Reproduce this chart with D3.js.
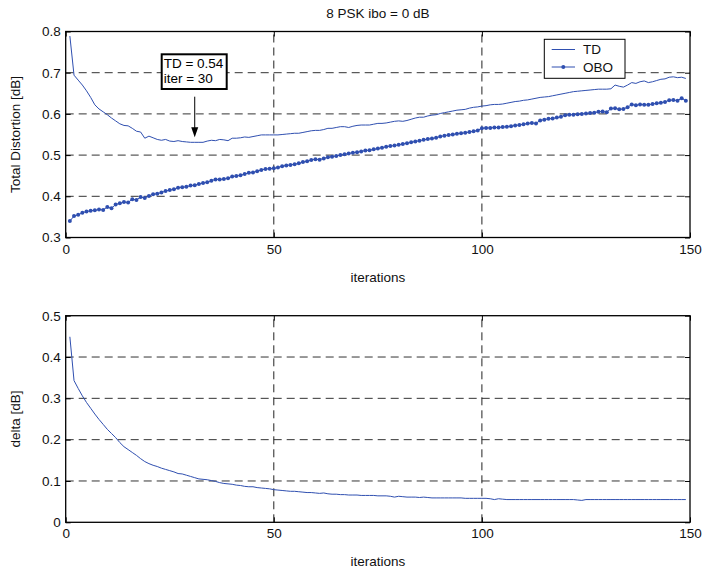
<!DOCTYPE html>
<html>
<head>
<meta charset="utf-8">
<script src="https://cdn.jsdelivr.net/npm/d3@7"></script>
<style>
  html, body { margin: 0; padding: 0; background: #fff; }
  svg { display: block; font-family: "Liberation Sans", Arial, sans-serif; }
</style>
</head>
<body>
<svg id="chart" width="702" height="571"></svg>
<script>
// ---------- DATA ----------
const title = "8 PSK ibo = 0 dB";
const xTicks = [0, 50, 100, 150];
const topYTicks = [0.3, 0.4, 0.5, 0.6, 0.7, 0.8];
const botYTicks = [0, 0.1, 0.2, 0.3, 0.4, 0.5];

const tdValues = [
0.789,0.694,0.682,0.670,0.656,0.640,0.622,0.612,0.605,0.598,
0.590,0.583,0.576,0.572,0.571,0.565,0.558,0.556,0.541,0.546,
0.542,0.538,0.536,0.538,0.534,0.533,0.535,0.533,0.532,0.531,
0.531,0.531,0.531,0.534,0.536,0.535,0.538,0.537,0.535,0.541,
0.541,0.542,0.544,0.543,0.545,0.547,0.549,0.549,0.549,0.549,
0.549,0.550,0.551,0.552,0.553,0.553,0.555,0.557,0.559,0.560,
0.560,0.562,0.565,0.565,0.567,0.569,0.569,0.567,0.570,0.572,
0.573,0.573,0.573,0.575,0.577,0.577,0.578,0.580,0.582,0.583,
0.582,0.584,0.587,0.590,0.592,0.592,0.595,0.597,0.598,0.601,
0.603,0.605,0.607,0.609,0.610,0.611,0.614,0.616,0.617,0.619,
0.620,0.622,0.623,0.623,0.624,0.626,0.628,0.630,0.631,0.633,
0.634,0.636,0.638,0.640,0.641,0.642,0.644,0.646,0.648,0.650,
0.652,0.654,0.655,0.656,0.657,0.658,0.659,0.660,0.660,0.660,
0.661,0.670,0.667,0.665,0.670,0.676,0.674,0.678,0.680,0.676,
0.678,0.681,0.684,0.685,0.689,0.690,0.688,0.689,0.686
];

const oboValues = [
0.340,0.352,0.355,0.360,0.363,0.365,0.366,0.368,0.367,0.374,
0.371,0.380,0.383,0.386,0.385,0.393,0.391,0.398,0.396,0.401,
0.405,0.406,0.409,0.413,0.415,0.417,0.421,0.422,0.423,0.426,
0.427,0.430,0.432,0.434,0.438,0.441,0.441,0.442,0.444,0.448,
0.449,0.451,0.454,0.457,0.458,0.461,0.464,0.466,0.467,0.468,
0.470,0.473,0.475,0.476,0.478,0.480,0.483,0.485,0.488,0.490,
0.489,0.492,0.495,0.496,0.498,0.500,0.502,0.504,0.506,0.507,
0.509,0.511,0.512,0.514,0.516,0.518,0.520,0.522,0.523,0.525,
0.527,0.529,0.531,0.533,0.535,0.537,0.539,0.540,0.542,0.545,
0.547,0.549,0.550,0.552,0.553,0.554,0.556,0.558,0.560,0.565,
0.566,0.566,0.567,0.567,0.568,0.569,0.570,0.572,0.573,0.575,
0.577,0.578,0.577,0.584,0.586,0.588,0.589,0.591,0.593,0.597,
0.598,0.598,0.599,0.600,0.601,0.602,0.603,0.605,0.606,0.604,
0.613,0.614,0.611,0.612,0.616,0.623,0.621,0.623,0.622,0.622,
0.624,0.626,0.627,0.629,0.633,0.634,0.632,0.638,0.632
];

const deltaValues = [
0.449,0.343,0.324,0.306,0.290,0.276,0.262,0.249,0.237,0.225,
0.215,0.205,0.193,0.183,0.176,0.169,0.162,0.154,0.147,0.142,
0.138,0.135,0.131,0.128,0.125,0.122,0.118,0.117,0.114,0.111,
0.108,0.105,0.104,0.103,0.101,0.099,0.096,0.094,0.093,0.092,
0.090,0.089,0.087,0.086,0.086,0.084,0.083,0.082,0.081,0.079,
0.078,0.077,0.076,0.075,0.075,0.074,0.073,0.072,0.072,0.071,
0.070,0.071,0.069,0.068,0.068,0.067,0.067,0.066,0.066,0.066,
0.065,0.065,0.065,0.065,0.064,0.064,0.064,0.063,0.061,0.063,
0.062,0.061,0.061,0.061,0.060,0.061,0.060,0.059,0.059,0.059,
0.059,0.059,0.059,0.059,0.059,0.058,0.058,0.058,0.058,0.058,
0.058,0.057,0.055,0.057,0.056,0.055,0.055,0.055,0.055,0.055,
0.055,0.055,0.055,0.055,0.055,0.055,0.055,0.055,0.055,0.055,
0.055,0.055,0.054,0.053,0.055,0.055,0.055,0.055,0.055,0.055,
0.055,0.055,0.055,0.055,0.055,0.055,0.055,0.055,0.055,0.055,
0.055,0.055,0.055,0.055,0.055,0.055,0.055,0.055,0.055
];

const annotation = { lines: ["TD = 0.54", "iter = 30"], iter: 31, value: 0.531 };
const legendNames = ["TD", "OBO"];

// ---------- LAYOUT ----------
const svg = d3.select("#chart");
const FS = "13.5px";
const blue = "#2f4fb0";
const L = 65.7, R = 690;

const x = d3.scaleLinear().domain([0, 150]).range([L, R]);
const yTop = d3.scaleLinear().domain([0.3, 0.8]).range([237.5, 31.5]);
const yBot = d3.scaleLinear().domain([0, 0.5]).range([522.3, 315.7]);

function panel(y, yTicks, yFmt, ylabel, xlabelY) {
  const g = svg.append("g");
  const [y0, y1] = y.range();
  // grid
  g.selectAll(".hg").data(yTicks.slice(1, -1)).join("line")
    .attr("x1", L).attr("x2", R).attr("y1", d => y(d)).attr("y2", d => y(d))
    .attr("stroke", "#333").attr("stroke-width", 1).attr("stroke-dasharray", "8,5");
  g.selectAll(".vg").data(xTicks.slice(1, -1)).join("line")
    .attr("x1", d => x(d)).attr("x2", d => x(d)).attr("y1", y0).attr("y2", y1)
    .attr("stroke", "#222").attr("stroke-width", 1).attr("stroke-dasharray", "8,5");

  // axes with inward ticks
  const ax = g.append("g").attr("transform", `translate(0,${y0})`)
    .call(d3.axisBottom(x).tickValues(xTicks).tickSize(-5).tickPadding(6.5).tickFormat(d3.format("d")));
  const axT = g.append("g").attr("transform", `translate(0,${y1})`)
    .call(d3.axisTop(x).tickValues(xTicks).tickSize(-5).tickFormat(""));
  const ay = g.append("g").attr("transform", `translate(${L},0)`)
    .call(d3.axisLeft(y).tickValues(yTicks).tickSize(-5).tickPadding(5).tickFormat(yFmt));
  const ayR = g.append("g").attr("transform", `translate(${R},0)`)
    .call(d3.axisRight(y).tickValues(yTicks).tickSize(-5).tickFormat(""));
  [ax, axT, ay, ayR].forEach(a => {
    a.select(".domain").remove();
    a.selectAll("line").attr("stroke", "#000");
    a.selectAll("text").attr("font-size", FS).attr("fill", "#111")
      .attr("font-family", '"Liberation Sans", Arial, sans-serif');
  });
  // frame
  g.append("rect").attr("x", L).attr("y", y1).attr("width", R - L).attr("height", y0 - y1)
    .attr("fill", "none").attr("stroke", "#000").attr("stroke-width", 1.3);
  // labels
  svg.append("text").attr("x", (L + R) / 2).attr("y", xlabelY).attr("text-anchor", "middle")
    .attr("font-size", FS).attr("fill", "#111").text("iterations");
  svg.append("text").attr("transform", `translate(20,${(y0 + y1) / 2}) rotate(-90)`)
    .attr("text-anchor", "middle").attr("font-size", FS).attr("fill", "#111").text(ylabel);
  return g;
}

const gTop = panel(yTop, topYTicks, d3.format(".1f"), "Total Distortion [dB]", 281.5);
const gBot = panel(yBot, botYTicks, d => d === 0 ? "0" : d3.format(".1f")(d), "delta [dB]", 566);

svg.append("text").attr("x", (L + R) / 2).attr("y", 18).attr("text-anchor", "middle")
  .attr("font-size", FS).attr("fill", "#111").text(title);

// ---------- SERIES ----------
const idx = (v, i) => i + 1;
const lineTop = d3.line().x((d, i) => x(i + 1)).y(d => yTop(d));
const lineBot = d3.line().x((d, i) => x(i + 1)).y(d => yBot(d));

gTop.append("path").datum(tdValues).attr("d", lineTop)
  .attr("fill", "none").attr("stroke", blue).attr("stroke-width", 1);
gTop.append("path").datum(oboValues).attr("d", lineTop)
  .attr("fill", "none").attr("stroke", blue).attr("stroke-width", 1);
gTop.selectAll(".obo").data(oboValues).join("circle")
  .attr("cx", (d, i) => x(i + 1)).attr("cy", d => yTop(d)).attr("r", 2)
  .attr("fill", blue);

gBot.append("path").datum(deltaValues).attr("d", lineBot)
  .attr("fill", "none").attr("stroke", blue).attr("stroke-width", 1);

// ---------- ANNOTATION ----------
const ax0 = x(annotation.iter);
const boxX = 161.7, boxY = 54.3, boxW = 65, boxH = 34.7;
svg.append("rect").attr("x", boxX).attr("y", boxY).attr("width", boxW).attr("height", boxH)
  .attr("fill", "#fff").attr("stroke", "#000").attr("stroke-width", 2);
annotation.lines.forEach((t, i) => {
  svg.append("text").attr("x", boxX + 2).attr("y", boxY + 13.5 + i * 15)
    .attr("font-size", FS).attr("fill", "#000").text(t);
});
const tipY = yTop(annotation.value) - 5;
svg.append("line").attr("x1", ax0).attr("x2", ax0).attr("y1", 96.7).attr("y2", tipY - 8)
  .attr("stroke", "#000").attr("stroke-width", 1);
svg.append("path")
  .attr("d", `M${ax0 - 3.5},${tipY - 10} L${ax0 + 3.5},${tipY - 10} L${ax0},${tipY} Z`)
  .attr("fill", "#000");

// ---------- LEGEND ----------
const lg = svg.append("g");
lg.append("rect").attr("x", 544.3).attr("y", 39.3).attr("width", 80.7).attr("height", 39)
  .attr("fill", "#fff").attr("stroke", "#000").attr("stroke-width", 1);
legendNames.forEach((n, i) => {
  const yy = 49.5 + i * 17.5;
  lg.append("line").attr("x1", 551.7).attr("x2", 575).attr("y1", yy).attr("y2", yy)
    .attr("stroke", blue).attr("stroke-width", 1);
  if (n === "OBO") lg.append("circle").attr("cx", 563.3).attr("cy", yy).attr("r", 2).attr("fill", blue);
  lg.append("text").attr("x", 583).attr("y", yy + 4.8).attr("font-size", FS).attr("fill", "#111").text(n);
});
</script>
</body>
</html>
